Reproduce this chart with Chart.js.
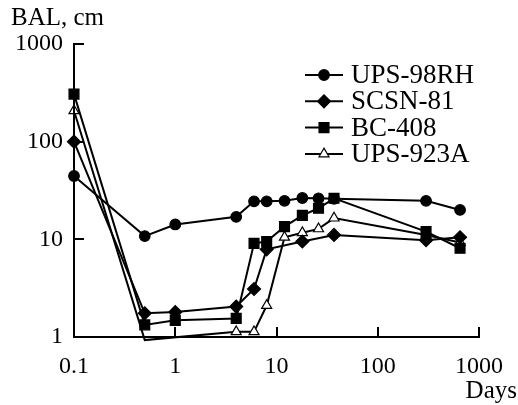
<!DOCTYPE html>
<html>
<head>
<meta charset="utf-8">
<script src="https://cdn.jsdelivr.net/npm/chart.js@4"></script>
<style>
  html, body { margin: 0; padding: 0; background: #fff; }
  canvas { display: block; }
</style>
</head>
<body>
<canvas id="balChart" width="518" height="405"></canvas>
<script>
// attenuation length vs. exposure time, four scintillator grades
const upsDays = [0.1, 0.5, 1, 4, 6, 8, 12, 18, 26, 37, 300, 650];
const upsBal = [44.5, 10.8, 14.2, 17, 24.5, 24.5, 24.8, 26.5, 26.3, 26, 24.8, 20];

const scsnDays = [0.1, 0.5, 1, 4, 6, 8, 18, 37, 300, 650];
const scsnBal = [100, 1.75, 1.8, 2.05, 3.1, 7.9, 9.5, 11.1, 9.8, 10.5];

const bcDays = [0.1, 0.5, 1, 4, 6, 8, 12, 18, 26, 37, 300, 650];
const bcBal = [307, 1.33, 1.48, 1.55, 9.1, 9.5, 13.5, 17.6, 20.8, 26.3, 12, 8.1];

const upsADays = [0.1, 0.5, 4, 6, 8, 12, 18, 26, 37, 300, 650];
const upsABal = [207, 0.93, 1.13, 1.13, 2.1, 10.5, 11.7, 12.8, 16.5, 11.1, 9.3];

const seriesNames = ["UPS-98RH", "SCSN-81", "BC-408", "UPS-923A"];
const xTicks = [0.1, 1, 10, 100, 1000];
const yTicks = [1, 10, 100, 1000];

const FONT = "'Liberation Serif', 'Times New Roman', serif";

function toPoints(xs, ys) {
  return xs.map((x, i) => ({ x: x, y: ys[i] }));
}

const markers = [
  { pointStyle: "circle", radius: 5.3, fill: "#000" },
  { pointStyle: "rectRot", radius: 6.5, fill: "#000" },
  { pointStyle: "rect", radius: 7, fill: "#000" },
  { pointStyle: "triangle", radius: 5.8, fill: "#fff" },
];

const seriesData = [
  toPoints(upsDays, upsBal),
  toPoints(scsnDays, scsnBal),
  toPoints(bcDays, bcBal),
  toPoints(upsADays, upsABal),
];

const datasets = seriesData.map((pts, i) => ({
  label: seriesNames[i],
  data: pts,
  borderColor: "#000",
  borderWidth: 2,
  pointStyle: markers[i].pointStyle,
  // markers sitting below the axis are hidden
  pointRadius: (ctx) => (ctx.raw && ctx.raw.y < 1 ? 0 : markers[i].radius),
  pointBackgroundColor: markers[i].fill,
  pointBorderColor: "#000",
  pointBorderWidth: 1.2,
  tension: 0,
  clip: false,
}));

// axis lines, inward tick marks, titles and the legend
const decorations = {
  id: "decorations",
  afterDraw(chart) {
    const { ctx, chartArea } = chart;
    const xs = chart.scales.x;
    const ys = chart.scales.y;
    ctx.save();
    ctx.strokeStyle = "#000";
    ctx.lineWidth = 2;
    ctx.lineCap = "butt";

    ctx.beginPath();
    ctx.moveTo(chartArea.left, chartArea.top - 1);
    ctx.lineTo(chartArea.left, chartArea.bottom);
    ctx.lineTo(chartArea.right + 1, chartArea.bottom);
    ctx.stroke();

    ctx.beginPath();
    yTicks.forEach((v) => {
      const py = Math.round(ys.getPixelForValue(v));
      ctx.moveTo(chartArea.left, py);
      ctx.lineTo(chartArea.left + 10, py);
    });
    xTicks.forEach((v) => {
      const px = Math.round(xs.getPixelForValue(v));
      ctx.moveTo(px, chartArea.bottom);
      ctx.lineTo(px, chartArea.bottom - 10);
    });
    ctx.stroke();

    ctx.fillStyle = "#000";
    ctx.font = "25px " + FONT;
    ctx.textAlign = "left";
    ctx.textBaseline = "alphabetic";
    ctx.fillText("BAL, cm", 11, 25);

    ctx.font = "25px " + FONT;
    ctx.textAlign = "right";
    ctx.fillText("Days", 517, 398);

    // legend
    const rowTop = 75;
    const rowStep = 26.3;
    seriesNames.forEach((name, i) => {
      const y = rowTop + i * rowStep;
      ctx.beginPath();
      ctx.lineWidth = 2;
      ctx.moveTo(305, y);
      ctx.lineTo(343, y);
      ctx.stroke();
      ctx.lineWidth = 1.2;
      ctx.fillStyle = markers[i].fill;
      Chart.helpers.drawPoint(ctx, {
        pointStyle: markers[i].pointStyle,
        radius: markers[i].radius,
        rotation: 0,
        borderWidth: 1.2,
      }, 324, y);
      ctx.fillStyle = "#000";
      ctx.font = "27px " + FONT;
      ctx.textAlign = "left";
      ctx.textBaseline = "middle";
      ctx.fillText(name, 351, y + 1);
    });
    ctx.restore();
  },
};

new Chart(document.getElementById("balChart"), {
  type: "line",
  data: { datasets: datasets },
  options: {
    responsive: false,
    animation: false,
    layout: { padding: { top: 44, right: 28, left: 0, bottom: 0 } },
    plugins: {
      legend: { display: false },
      tooltip: { enabled: false },
    },
    scales: {
      x: {
        type: "logarithmic",
        min: 0.1,
        max: 1000,
        afterBuildTicks: (scale) => {
          scale.ticks = xTicks.map((v) => ({ value: v }));
        },
        afterFit: (scale) => {
          scale.height = 68;
        },
        grid: { display: false, drawTicks: false },
        border: { display: false },
        ticks: {
          color: "#000",
          font: { family: FONT, size: 24 },
          padding: 15,
          maxRotation: 0,
          autoSkip: false,
          callback: (v) => String(v),
        },
      },
      y: {
        type: "logarithmic",
        min: 1,
        max: 1000,
        afterBuildTicks: (scale) => {
          scale.ticks = yTicks.map((v) => ({ value: v }));
        },
        afterFit: (scale) => {
          scale.width = 74;
        },
        grid: { display: false, drawTicks: false },
        border: { display: false },
        ticks: {
          color: "#000",
          font: { family: FONT, size: 24 },
          padding: 11,
          autoSkip: false,
          callback: (v) => String(v),
        },
      },
    },
  },
  plugins: [decorations],
});
</script>
</body>
</html>
